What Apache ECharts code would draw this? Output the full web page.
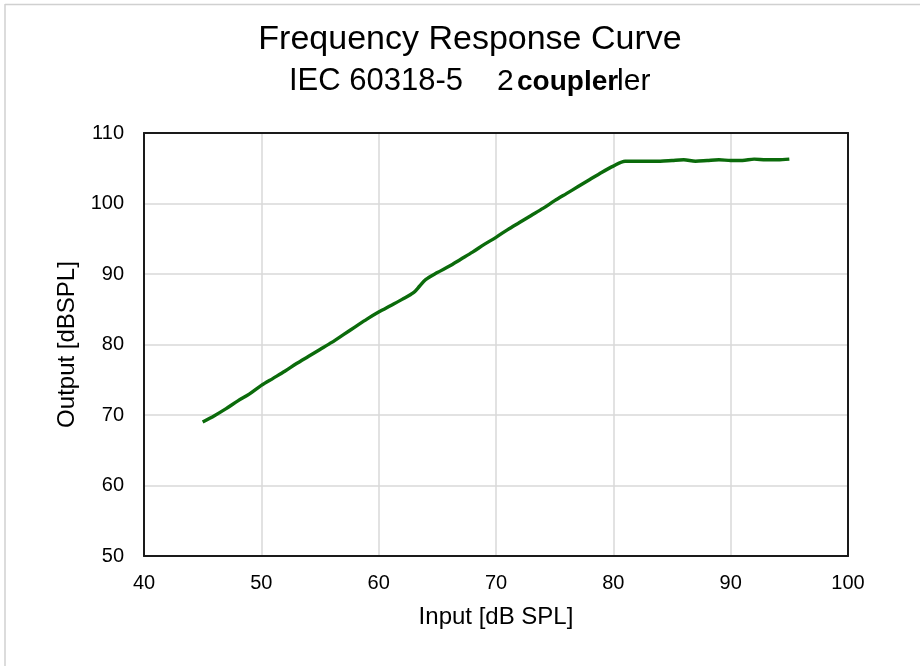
<!DOCTYPE html>
<html><head><meta charset="utf-8">
<script src="https://cdn.jsdelivr.net/npm/echarts@6/dist/echarts.min.js"></script>
<style>html,body{margin:0;padding:0;background:#fff}#c{width:920px;height:666px}</style>
</head><body><div id="c"></div>
<script>
var inputDb = [45,46,47,48,49,50,51,52,53,54,55,56,57,58,59,60,61,62,63,63.5,64,65,66,67,68,69,70,71,72,73,74,75,76,77,78,79,80,81,82,83,84,85,86,87,88,89,90,91,92,93,94,95];
var outputDb = [69.0,69.9,70.9,72.0,73.0,74.2,75.2,76.2,77.3,78.3,79.3,80.3,81.4,82.5,83.6,84.6,85.5,86.4,87.4,88.3,89.2,90.2,91.1,92.1,93.1,94.2,95.2,96.3,97.3,98.3,99.3,100.4,101.4,102.4,103.4,104.4,105.3,106.0,106.0,106.0,106.0,106.1,106.2,106.0,106.1,106.2,106.1,106.1,106.3,106.2,106.2,106.3];
var titleLine1 = 'Frequency Response Curve';
var titleLine2a = 'IEC 60318-5';
var titleLine2b = '2cc coupler';
var titleOverlay = 'coupler';
var xName = 'Input [dB SPL]';
var yName = 'Output [dBSPL]';

var pts = inputDb.map(function(x,i){return [x, outputDb[i]];});
var FONT = '"Liberation Sans", Arial, sans-serif';
var FRAME = {show:true,lineStyle:{color:'#1a1a1a',width:2}};
var chart = echarts.init(document.getElementById('c'));
chart.setOption({
  backgroundColor:'#fff',
  animation:false,
  grid:{left:144,right:72,top:133,bottom:110},
  xAxis:[{type:'value',min:40,max:100,interval:10,
    name:xName,nameLocation:'middle',nameGap:49,
    nameTextStyle:{fontFamily:FONT,fontSize:24,color:'#000'},
    axisLine:FRAME,axisTick:{show:false},
    axisLabel:{fontFamily:FONT,fontSize:20,color:'#000',margin:17},
    splitLine:{show:true,lineStyle:{color:'#d9d9d9',width:1.5}}},
    {type:'value',position:'top',min:40,max:100,interval:10,
    axisLine:FRAME,axisTick:{show:false},axisLabel:{show:false},splitLine:{show:false}}],
  yAxis:[{type:'value',min:50,max:110,interval:10,
    name:yName,nameLocation:'middle',nameGap:62,nameRotate:90,
    nameTextStyle:{fontFamily:FONT,fontSize:24,color:'#000'},
    axisLine:FRAME,axisTick:{show:false},
    axisLabel:{fontFamily:FONT,fontSize:20,color:'#000',margin:20},
    splitLine:{show:true,lineStyle:{color:'#d9d9d9',width:1.5}}},
    {type:'value',position:'right',min:50,max:110,interval:10,
    axisLine:FRAME,axisTick:{show:false},axisLabel:{show:false},splitLine:{show:false}}],
  series:[{type:'line',data:pts,showSymbol:false,smooth:0.3,
    lineStyle:{color:'#0b6b0b',width:3.4},z:3}],
  graphic:[
    {type:'line',shape:{x1:5,y1:4.5,x2:920,y2:4.5},style:{stroke:'#d0d0d0',lineWidth:1.5},silent:true},
    {type:'line',shape:{x1:5,y1:4,x2:5,y2:666},style:{stroke:'#d0d0d0',lineWidth:1.5},silent:true},
    {type:'text',x:470,y:23,style:{text:titleLine1,font:'34px '+FONT,fill:'#000',textAlign:'center'}},
    {type:'text',x:289,y:66,style:{text:titleLine2a,font:'31px '+FONT,fill:'#000'}},
    {type:'text',x:497,y:67,style:{text:titleLine2b,font:'30px '+FONT,fill:'#000'}},
    {type:'text',x:514,y:67,style:{text:titleOverlay,font:'bold 28px '+FONT,fill:'#000',backgroundColor:'#fff',padding:[1,0,1,3]}}
  ]
});
</script></body></html>
